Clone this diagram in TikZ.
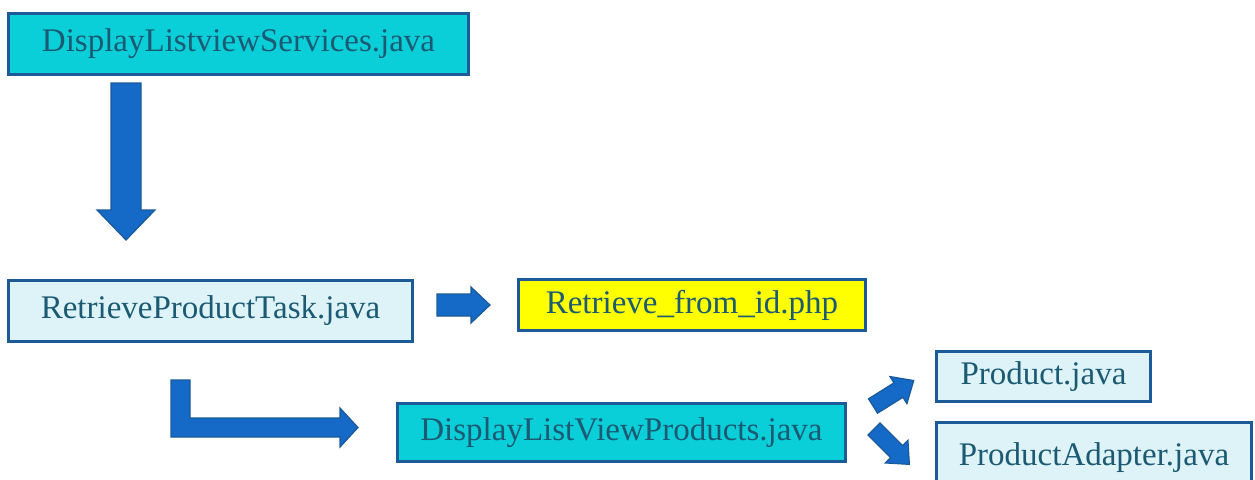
\documentclass[tikz,border=0pt]{standalone}
\usepackage{fontspec}
\setmainfont{Liberation Serif}
\definecolor{cyanfill}{HTML}{0ACED8}
\definecolor{lightfill}{HTML}{DDF3F8}
\definecolor{yellowfill}{HTML}{FFFF00}
\definecolor{boxborder}{HTML}{1D5B98}
\definecolor{txtcol}{HTML}{1B5A72}
\definecolor{arrfill}{HTML}{1569C7}
\definecolor{arredge}{HTML}{1B5A9A}
\begin{document}
\begin{tikzpicture}[x=1pt,y=-1pt,
  filebox/.style={draw=boxborder, line width=3pt, inner sep=0pt, text=txtcol,
    font=\fontsize{33}{36}\selectfont},
  blockarrow/.style={fill=arrfill, draw=arredge, line width=1.2pt, line join=miter}]
\useasboundingbox (0,0) rectangle (1255,479);
\clip (0,0) rectangle (1255,479);
\fill[white] (0,0) rectangle (1255,479);

\node[filebox, fill=cyanfill, minimum width=460pt, minimum height=61pt] (dls) at (238.5,44) {DisplayListviewServices.java};
\node[filebox, fill=lightfill, minimum width=404pt, minimum height=61pt] (rpt) at (210.5,311) {RetrieveProductTask.java};
\node[filebox, fill=yellowfill, minimum width=347pt, minimum height=51pt] (rfi) at (692,305) {Retrieve\_from\_id.php};
\node[filebox, fill=cyanfill, minimum width=448pt, minimum height=58pt] (dlp) at (621.5,432.5) {DisplayListViewProducts.java};
\node[filebox, fill=lightfill, minimum width=214pt, minimum height=50pt] (prod) at (1043.5,376.5) {Product.java};
\node[filebox, fill=lightfill, minimum width=315pt, minimum height=70pt] (pad) at (1094,457.5) {\raisebox{4pt}{ProductAdapter.java}};

% down arrow from dls to rpt
\draw[blockarrow] (111,83) -- (141,83) -- (141,210) -- (155,210) -- (126,240) -- (97,210) -- (111,210) -- cycle;
% right arrow rpt -> rfi
\draw[blockarrow] (437,294) -- (471,294) -- (471,287) -- (490,305) -- (471,323) -- (471,316) -- (437,316) -- cycle;
% bent arrow rpt -> dlp
\draw[blockarrow] (171,380) -- (190,380) -- (190,418) -- (340,418) -- (340,408) -- (358,427.5) -- (340,447) -- (340,437) -- (171,437) -- cycle;
% diagonal arrows dlp -> prod, dlp -> pad
\draw[blockarrow, shift={(873,406)}, rotate=32]
  (0,-8.5) -- (30,-8.5) -- (30,-16) -- (48,0) -- (30,16) -- (30,8.5) -- (0,8.5) -- cycle;
\draw[blockarrow, shift={(874,429)}, rotate=-45]
  (0,-8.5) -- (32,-8.5) -- (32,-16) -- (50,0) -- (32,16) -- (32,8.5) -- (0,8.5) -- cycle;
\end{tikzpicture}
\end{document}
